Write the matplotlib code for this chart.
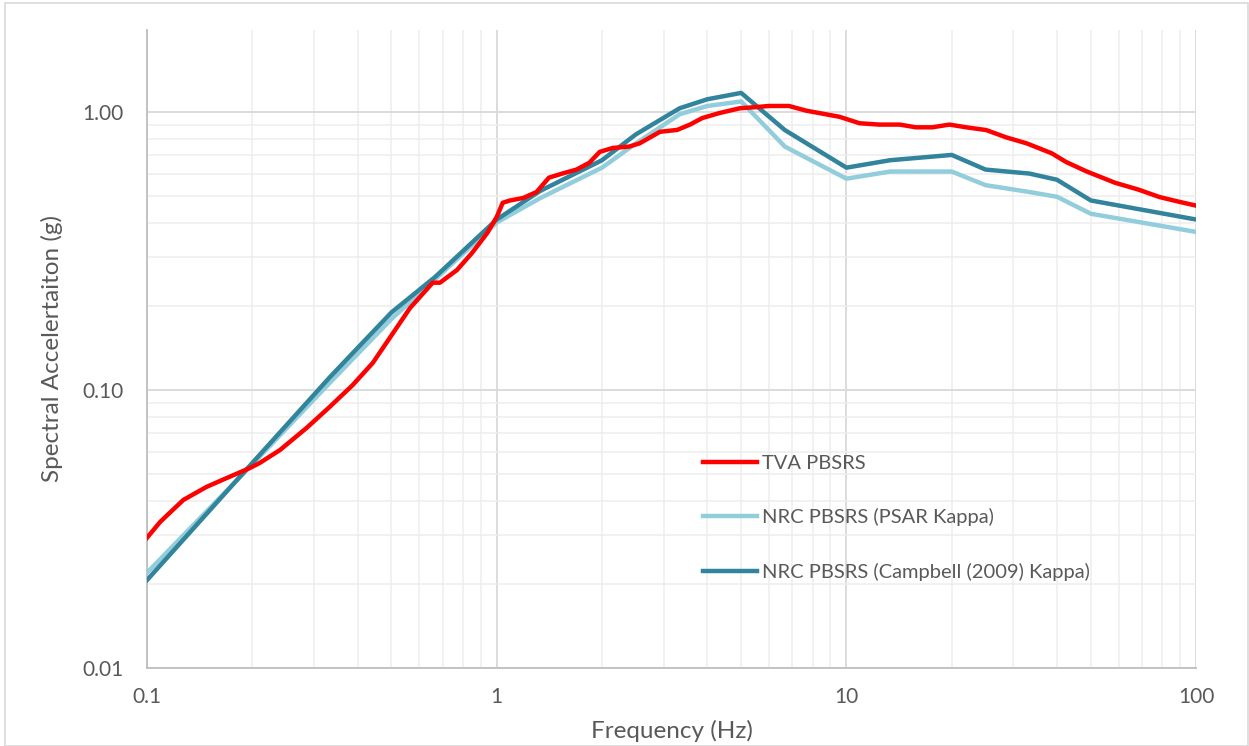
import matplotlib.pyplot as plt
from matplotlib.patches import Rectangle

# TVA PBSRS (red)
tva_freq = [0.1, 0.109, 0.127, 0.148, 0.169, 0.197, 0.21, 0.24, 0.286, 0.333, 0.387,
            0.442, 0.505, 0.565, 0.656, 0.688, 0.77, 0.85, 0.94, 1.0, 1.04, 1.09,
            1.19, 1.30, 1.41, 1.54, 1.69, 1.84, 1.97, 2.15, 2.39, 2.56, 2.93, 3.28,
            3.57, 3.87, 4.33, 4.95, 5.5, 6.0, 6.85, 7.67, 9.55, 10.9, 12.4, 14.2,
            15.8, 17.6, 19.7, 22.0, 25.1, 28.6, 32.8, 38.6, 42.5, 48.7, 58.6, 68.5,
            78.5, 90.0, 100.0]
tva_sa = [0.0294, 0.0335, 0.0402, 0.0448, 0.0482, 0.0524, 0.0546, 0.0608, 0.073, 0.0869,
          0.104, 0.125, 0.160, 0.197, 0.243, 0.243, 0.270, 0.311, 0.367, 0.419, 0.471,
          0.48, 0.49, 0.515, 0.58, 0.60, 0.62, 0.656, 0.718, 0.742, 0.75, 0.77, 0.848,
          0.861, 0.90, 0.95, 0.99, 1.03, 1.04, 1.05, 1.05, 1.01, 0.96, 0.91, 0.90, 0.90,
          0.88, 0.88, 0.90, 0.88, 0.86, 0.81, 0.77, 0.71, 0.66, 0.61, 0.556, 0.525,
          0.494, 0.474, 0.46]

# NRC PBSRS curves
nrc_freq = [0.1, 0.2, 0.333, 0.5, 0.667, 1.0, 1.333, 2.0, 2.5, 3.333, 4.0, 5.0,
            6.667, 10.0, 13.33, 20.0, 25.0, 33.33, 40.0, 50.0, 100.0]
psar_sa = [0.022, 0.054, 0.106, 0.18, 0.25, 0.40, 0.49, 0.63, 0.77, 0.98, 1.05, 1.09,
           0.75, 0.575, 0.61, 0.61, 0.545, 0.515, 0.495, 0.43, 0.37]
campbell_sa = [0.0207, 0.0546, 0.111, 0.19, 0.255, 0.41, 0.52, 0.67, 0.83, 1.03, 1.11, 1.17,
               0.86, 0.63, 0.67, 0.70, 0.62, 0.60, 0.57, 0.48, 0.41]

plt.rcParams['font.family'] = ['Lato', 'DejaVu Sans']
text_color = '#595959'

fig = plt.figure(figsize=(12.49, 7.46), dpi=100)
ax = fig.add_axes([0.1177, 0.1046, 0.84, 0.8552])
fig.patches.append(Rectangle((0.004, 0.0), 0.995, 0.996, transform=fig.transFigure,
                             fill=False, edgecolor='#D9D9D9', linewidth=1.2))

ax.plot(tva_freq, tva_sa, color='#FF0000', lw=3.2, label='TVA PBSRS', zorder=4)
ax.plot(nrc_freq, psar_sa, color='#92CDDC', lw=3.2, label='NRC PBSRS (PSAR Kappa)', zorder=3)
ax.plot(nrc_freq, campbell_sa, color='#31849B', lw=3.2,
        label='NRC PBSRS (Campbell (2009) Kappa)', zorder=3)

ax.set_xscale('log')
ax.set_yscale('log')
ax.set_xlim(0.1, 100)
ax.set_ylim(0.01, 1.97)

ax.set_xticks([0.1, 1, 10, 100])
ax.set_xticklabels(['0.1', '1', '10', '100'])
ax.set_yticks([0.01, 0.1, 1])
ax.set_yticklabels(['0.01', '0.10', '1.00'])
ax.tick_params(axis='both', which='both', length=0, labelsize=15, colors=text_color)
ax.tick_params(axis='x', pad=14)
ax.tick_params(axis='y', pad=17)

ax.grid(True, which='major', color='#D9D9D9', lw=1.3)
ax.grid(True, which='minor', color='#EDEDED', lw=1.1)
ax.set_axisbelow(True)

for s in ['top', 'right']:
    ax.spines[s].set_visible(False)
for s in ['left', 'bottom']:
    ax.spines[s].set_color('#BFBFBF')
    ax.spines[s].set_linewidth(1.3)

ax.set_xlabel('Frequency (Hz)', fontsize=17.5, color=text_color, labelpad=9)
ax.set_ylabel('Spectral Accelertaiton (g)', fontsize=17.5, color=text_color, labelpad=14)

ax.legend(loc='upper left', bbox_to_anchor=(0.530, 0.334), frameon=False, fontsize=14.5,
          labelcolor=text_color, handlelength=2.7, handletextpad=0.25, labelspacing=1.8,
          borderpad=0, borderaxespad=0)

fig.savefig('out.png', dpi=100)
